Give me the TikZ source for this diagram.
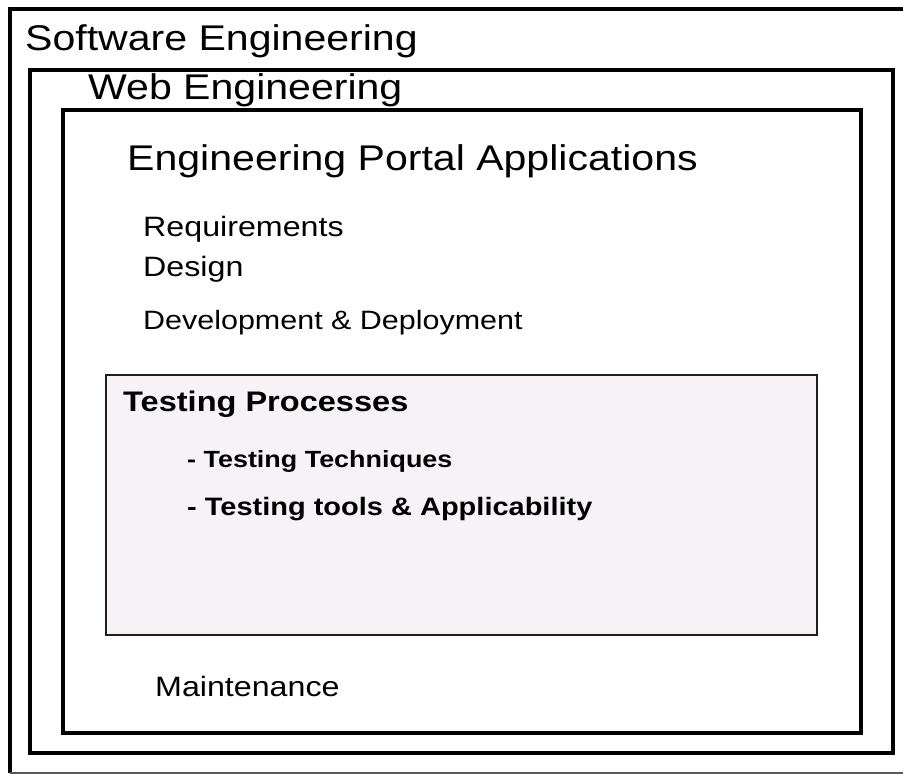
\documentclass[tikz,border=0pt]{standalone}
\usepackage{fontspec}
\setmainfont{Liberation Sans}[FakeStretch=1.15]
\definecolor{panelfill}{RGB}{246,242,246}
\definecolor{panelline}{RGB}{30,30,30}
\begin{document}
\begin{tikzpicture}[x=1pt,y=-1pt,
  frame/.style={draw=black,line width=3.5pt},
  label/.style={anchor=base west,inner sep=0pt,text=black},
  huge/.style={label,font=\fontsize{35.7}{40}\selectfont},
  item/.style={label,font=\fontsize{28}{32}\selectfont},
  bolditem/.style={label,font=\bfseries\fontsize{28.3}{32}\selectfont},
  subitem/.style={label,font=\bfseries\fontsize{24}{28}\selectfont}]
\useasboundingbox[fill=white] (0,0) rectangle (903,775);

% outermost frame (runs past the right edge)
\draw[line width=3.5pt] (10,773) -- (10,9) -- (960,9);
\draw[line width=1.5pt,draw=black!65] (10,773) -- (960,773);

% nested frames
\draw[frame] (30,70) rectangle (893,753);
\draw[frame] (63,110) rectangle (861,733);
\draw[fill=panelfill,draw=panelline,line width=2.5pt] (106,375) rectangle (817,635);

% headings
\node[huge] (se) at (25,51) {Software Engineering};
\node[huge] (we) at (88,100) {Web Engineering};
\node[huge] (epa) at (127,171) {Engineering Portal Applications};

% phases
\node[item] (req) at (143,237) {Requirements};
\node[item] (des) at (143,277) {Design};
\node[item,font=\fontsize{26.5}{30}\selectfont] (dev) at (143,330) {Development \& Deployment};

% testing panel
\node[bolditem] (tp) at (123,412) {Testing Processes};
\node[subitem,font=\bfseries\fontsize{23.4}{28}\selectfont] (tt) at (187,468) {- Testing Techniques};
\node[subitem,font=\bfseries\fontsize{25.2}{28}\selectfont] (ta) at (187,516) {- Testing tools \& Applicability};

\node[item] (mnt) at (155,696) {Maintenance};
\end{tikzpicture}
\end{document}
